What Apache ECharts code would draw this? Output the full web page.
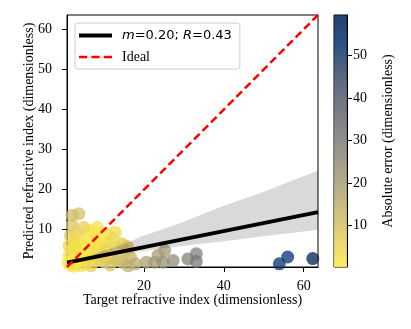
<!DOCTYPE html>
<html>
<head>
<meta charset="utf-8">
<script src="https://cdn.jsdelivr.net/npm/echarts@6/dist/echarts.min.js"></script>
<style>
  html, body { margin: 0; padding: 0; background: #fff; }
  #chart { width: 411px; height: 329px; }
</style>
</head>
<body>
<div id="chart"></div>
<script>
// target vs predicted refractive index
var target = [
  2.0, 3.7, 2.0, 4.9, 1.5, 3.0, 1.2, 2.5, 4.0, 6.0,
  8.3, 10.8, 12.8, 14.5, 16.6, 14.5, 17.8, 15.5, 13.0, 12.0,
  11.0, 9.5, 9.0, 8.0, 7.0, 6.5, 6.0, 5.5, 5.0, 4.5,
  4.0, 3.5, 3.0, 2.5, 2.0, 1.5, 1.2, 1.0, 3.2, 5.2,
  7.5, 10.0, 11.5, 13.5, 16.0, 9.0, 6.8, 4.2, 2.2, 8.5,
  10.5, 12.2, 15.8, 7.8, 3.0, 4.8, 6.2, 7.4, 2.6, 5.8,
  8.8, 10.2, 3.8, 1.8,
  20.6, 22.7, 23.5, 24.8, 25.2, 27.3, 31.0, 33.1, 33.1,
  53.9, 56.0, 62.3
]
var predicted = [
  13.6, 14.0, 11.1, 10.6, 8.5, 9.2, 6.0, 7.0, 7.8, 9.8,
  10.6, 9.0, 9.4, 6.5, 3.2, 1.9, 1.5, 4.5, 5.5, 3.0,
  7.0, 6.5, 4.0, 2.5, 5.5, 3.5, 7.0, 1.5, 4.8, 2.5,
  5.5, 3.5, 1.5, 4.5, 2.5, 1.2, 3.5, 1.8, 6.2, 6.0,
  7.5, 2.0, 1.2, 2.5, 1.0, 8.5, 1.0, 1.0, 0.9, 5.8,
  4.8, 7.8, 5.8, 9.2, 2.8, 3.2, 2.2, 3.8, 5.6, 4.2,
  2.8, 3.4, 4.0, 5.0,
  1.9, 1.9, 3.6, 1.9, 4.8, 2.3, 2.7, 4.0, 2.1,
  1.5, 3.2, 2.8
]
// regression line and its confidence band
var fitX = [0.7, 63.6]
var fitY = [1.8, 14.4]
var bandX = [0.7, 5, 10, 16.5, 19, 30, 39, 50, 63.6]
var bandLow = [1.2, 2.3, 3.2, 4.2, 4.6, 6.0, 7.0, 8.4, 10.0]
var bandHigh = [2.4, 3.0, 4.8, 7.0, 8.2, 12.0, 15.6, 19.5, 24.8]
var idealX = [0.7, 63.6]
var xTicks = [20, 40, 60]
var yTicks = [10, 20, 30, 40, 50, 60]
var cbTicks = [10, 20, 30, 40, 50]
var errMin = 0.2
var errMax = 59.5

var cividisR = ['#FFEA46', '#E4CF5B', '#C4B56C', '#A69D75', '#8A8779',
  '#707173', '#575C6D', '#39486B', '#00336F', '#00204D']

var serif = 'Liberation Serif'

var points = target.map(function(t, i) {
  return [t, predicted[i], Math.abs(predicted[i] - t)]
})
var fitData = fitX.map(function(x, i) { return [x, fitY[i]] })
var idealData = idealX.map(function(x) { return [x, x] })

var chart = echarts.init(document.getElementById('chart'))
var axisLabel = { color: '#000', fontFamily: serif, fontSize: 14 }
var nameStyle = { color: '#000', fontFamily: serif, fontSize: 14 }

var option = {
  animation: false,
  grid: [
    { left: 67, top: 15, width: 251, height: 252, show: true, borderColor: '#000', borderWidth: 1 },
    { left: 334, top: 15, width: 13, height: 252, show: true, borderColor: '#000', borderWidth: 1 }
  ],
  xAxis: [
    {
      type: 'value', gridIndex: 0, min: 0.7, max: 63.6,
      name: 'Target refractive index (dimensionless)',
      nameLocation: 'middle', nameGap: 26, nameMoveOverlap: false,
      nameTextStyle: nameStyle,
      axisLine: { show: true, lineStyle: { color: '#000', width: 1 } },
      axisTick: { show: true, length: 5, lineStyle: { color: '#000' }, customValues: xTicks },
      axisLabel: Object.assign({ margin: 12, customValues: xTicks }, axisLabel),
      splitLine: { show: false }
    },
    {
      type: 'category', gridIndex: 1, data: ['cb'], show: false
    }
  ],
  yAxis: [
    {
      type: 'value', gridIndex: 0, min: 0.7, max: 63.6,
      name: 'Predicted refractive index (dimensionless)',
      nameLocation: 'middle', nameGap: 31, nameRotate: 90, nameMoveOverlap: false,
      nameTextStyle: nameStyle,
      axisLine: { show: true, lineStyle: { color: '#000', width: 1 } },
      axisTick: { show: true, length: 5, lineStyle: { color: '#000' }, customValues: yTicks },
      axisLabel: Object.assign({ margin: 15, customValues: yTicks }, axisLabel),
      splitLine: { show: false }
    },
    {
      type: 'value', gridIndex: 1, position: 'right', min: errMin, max: errMax,
      name: 'Absolute error (dimensionless)',
      nameLocation: 'middle', nameGap: 34, nameRotate: 90, nameMoveOverlap: false,
      nameTextStyle: nameStyle,
      axisLine: { show: true, lineStyle: { color: '#000', width: 1 } },
      axisTick: { show: true, length: 5, lineStyle: { color: '#000' }, customValues: cbTicks },
      axisLabel: Object.assign({ margin: 6, customValues: cbTicks }, axisLabel),
      splitLine: { show: false }
    }
  ],
  visualMap: {
    show: false,
    type: 'continuous',
    seriesIndex: 0,
    dimension: 2,
    min: errMin,
    max: errMax,
    inRange: { color: cividisR }
  },
  legend: {
    orient: 'vertical',
    left: 75, top: 23,
    data: [
      { name: 'fit', icon: 'path://M0,0H33V4H0Z', itemStyle: { color: '#000' } },
      { name: 'Ideal', icon: 'path://M0,0H8V2.5H0Z M12,0H20V2.5H12Z M24,0H32V2.5H24Z', itemStyle: { color: '#ff0000' } }
    ],
    itemWidth: 33, itemHeight: 14, itemGap: 8,
    padding: [6, 8, 5, 4],
    backgroundColor: '#fff',
    borderColor: '#cccccc', borderWidth: 1, borderRadius: 3,
    textStyle: {
      color: '#000', fontFamily: serif, fontSize: 14, padding: [0, 0, 0, 5],
      rich: {
        i: { fontFamily: 'DejaVu Sans', fontStyle: 'italic', fontSize: 13, color: '#000' },
        n: { fontFamily: 'DejaVu Sans', fontSize: 13, color: '#000' }
      }
    },
    formatter: function(name) {
      if (name === 'fit') return '{i|m}{n|=0.20; }{i|R}{n|=0.43}'
      return name
    }
  },
  series: [
    {
      name: 'points', type: 'scatter', xAxisIndex: 0, yAxisIndex: 0,
      data: points, symbolSize: 13, z: 2,
      itemStyle: { opacity: 0.75 }
    },
    {
      // confidence band drawn as one polygon through the axis scales
      name: 'band', type: 'custom', xAxisIndex: 0, yAxisIndex: 0,
      data: [0], silent: true, z: 3,
      renderItem: function(params, api) {
        var pts = []
        bandX.forEach(function(x, i) { pts.push(api.coord([x, bandHigh[i]])) })
        for (var i = bandX.length - 1; i >= 0; i--) pts.push(api.coord([bandX[i], bandLow[i]]))
        return {
          type: 'polygon',
          shape: { points: pts },
          style: { fill: 'rgba(0,0,0,0.15)' }
        }
      }
    },
    {
      name: 'fit', type: 'line', xAxisIndex: 0, yAxisIndex: 0,
      data: fitData, symbol: 'none', z: 4,
      itemStyle: { color: '#000' },
      lineStyle: { color: '#000', width: 4 }
    },
    {
      name: 'Ideal', type: 'line', xAxisIndex: 0, yAxisIndex: 0,
      data: idealData, symbol: 'none', z: 5,
      itemStyle: { color: '#ff0000' },
      lineStyle: { color: '#ff0000', width: 2.5, type: [8, 4] }
    },
    {
      name: 'colorbar', type: 'bar', xAxisIndex: 1, yAxisIndex: 1,
      data: [errMax], barWidth: '100%', silent: true,
      itemStyle: {
        opacity: 0.85,
        color: new echarts.graphic.LinearGradient(0, 0, 0, 1, cividisR.slice().reverse().map(function(c, i, arr) {
          return { offset: i / (arr.length - 1), color: c }
        }))
      }
    }
  ]
}
chart.setOption(option)
</script>
</body>
</html>
